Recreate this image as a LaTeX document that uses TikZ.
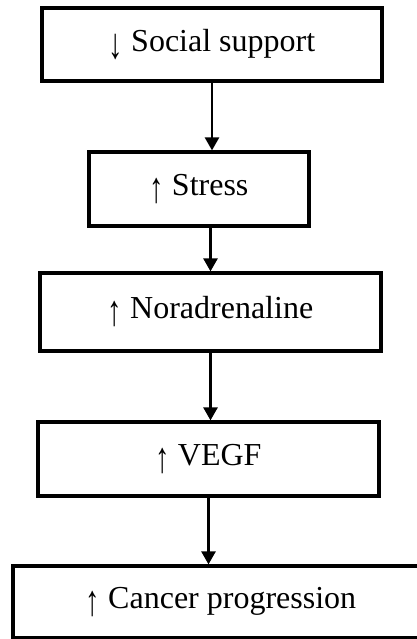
\documentclass[tikz,border=0pt]{standalone}
\usepackage{graphicx}
\usepackage{fontspec}
\setmainfont{Liberation Serif}
\usetikzlibrary{arrows.meta}

\newcommand{\uparr}{\raisebox{-0.22em}{\scalebox{0.9}[1.35]{↑}}}
\newcommand{\downarr}{\raisebox{-0.22em}{\scalebox{0.9}[1.35]{↓}}}

\begin{document}
\begin{tikzpicture}[x=1pt, y=-1pt, line width=3.2pt]
    \tikzset{box/.style={draw, rectangle, inner sep=0pt, minimum height=73pt, font=\fontsize{32}{38}\selectfont}};
    \tikzset{link/.style={line width=2.6pt, -{Triangle[width=14pt, length=13pt]}}};

    \useasboundingbox (0, 0) rectangle (417, 639);
    \clip (0, 0) rectangle (417, 639);

    % Chain
    \node [box, minimum width=340pt] (sup) at (212, 44.5) {\downarr\ Social support};
    \node [box, minimum width=220pt, minimum height=74pt] (str) at (199, 189) {\uparr\ Stress};
    \node [box, minimum width=341pt, minimum height=78pt] (nor) at (210.5, 312) {\uparr\ Noradrenaline};
    \node [box, minimum width=341pt, minimum height=74pt] (veg) at (208.5, 459) {\uparr\ VEGF};
    \node [box, minimum width=416pt, minimum height=72pt] (can) at (221, 602) {\uparr\ Cancer progression};

    % Edges
    \draw [link] (sup.south) -- (sup.south |- str.north);
    \draw [link] (nor.north |- str.south) -- (nor.north);
    \foreach \i/\j in {nor/veg, veg/can} { \draw [link] (\i.south) -- (\i.south |- \j.north); }
  \end{tikzpicture}
\end{document}
